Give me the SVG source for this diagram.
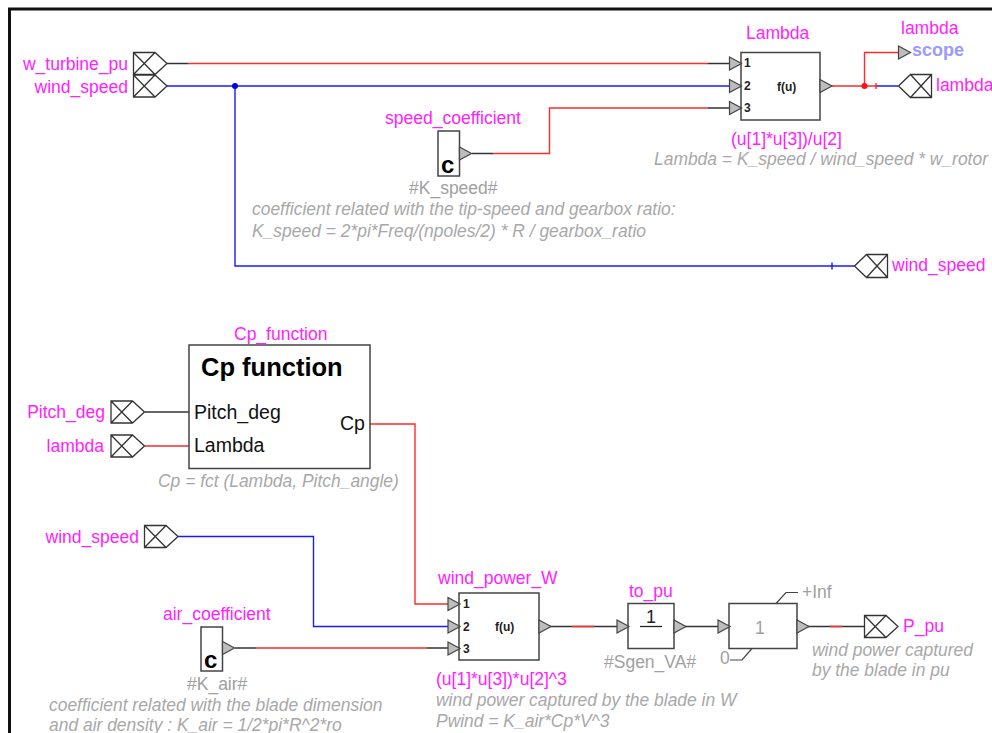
<svg xmlns="http://www.w3.org/2000/svg" xmlns:xlink="http://www.w3.org/1999/xlink" width="992" height="733" viewBox="0 0 992 733">
<style>
text{font-family:"Liberation Sans",Arial,sans-serif}
.lbl{font-size:17.500px;fill:#ff22ff}
.note{font-size:17.440px;fill:#a8a8a8;font-style:italic}
.val{font-size:17.500px;fill:#a0a0a0}
.blk{fill:#fff;stroke:#444;stroke-width:1.5}
.tri{fill:#bdbdbd;stroke:#444;stroke-width:1.2}
.w{fill:none;stroke-width:1.4}
.k{stroke:#333}.r{stroke:#ff2a2a}.b{stroke:#1a1aff}
.port{fill:#fff;stroke:#333;stroke-width:1.3}
.pn{font-size:12px;font-weight:bold;fill:#222}
.c{font-size:24px;font-weight:bold;fill:#000}
.pt{font-size:19.500px;fill:#111}
</style>
<defs>
<g id="src"><path class="port" d="M0-11H21.500L33.500 0 21.500 11H0ZM0-11 21.500 11M0 11 21.500-11"/></g>
<g id="dst"><path class="port" d="M0 0 12-11.500H33V11.500H12ZM12-11.500 33 11.500M12 11.500 33-11.500"/></g>
<path id="t" class="tri" d="M0-6.500 12 0 0 6.500Z"/>
</defs>
<path id="frame" d="M9.500 733V9H992" fill="none" stroke="#111" stroke-width="3"/>
<g id="connectors">
<path class="w k" d="M167 63.500H188M708 63.500H729M472 153.500H493M708 108H729M145 412H189M235 648H256M427 648H448M550 626.500H617M685 626.500H718M808 626.500H864"/>
<path class="w r" d="M188 63.500H708M493 153.500H549.500V108H708M145 446H189M370 424H415V604H448M256 648H427M831 86H876M864.500 86V52.500H898M572 626.500H594M830 626.500H842"/>
<path class="w b" d="M167 86H729M235 86V266H855M876 86H898M178 536.500H313.500V626.500H448"/>
<path class="w b" d="M832 262.500V269.500"/>
<path class="w r" d="M876 83V89"/>
<circle cx="235" cy="86" r="3" fill="#0000e0"/>
<circle cx="864.500" cy="86" r="3" fill="#ff1010"/>
</g>
<g id="w_turbine_pu"><use xlink:href="#src" href="#src" x="133.500" y="63.500"/><text class="lbl" x="128" y="69.500" text-anchor="end">w_turbine_pu</text></g>
<g id="wind_speed_in"><use xlink:href="#src" href="#src" x="133.500" y="86"/><text class="lbl" x="128" y="92.500" text-anchor="end">wind_speed</text></g>
<g id="Lambda">
<rect class="blk" x="741" y="52.500" width="79" height="67.500"/>
<use xlink:href="#t" href="#t" x="729.500" y="63.500"/><use xlink:href="#t" href="#t" x="729.500" y="86"/><use xlink:href="#t" href="#t" x="729.500" y="108"/><use xlink:href="#t" href="#t" x="820" y="86"/>
<text class="pn" x="744" y="67">1</text><text class="pn" x="744" y="90">2</text><text class="pn" x="744" y="112">3</text>
<text class="pn" x="777" y="91">f(u)</text>
<text class="lbl" x="746" y="39">Lambda</text>
<text class="lbl" x="731" y="145">(u[1]*u[3])/u[2]</text>
<text class="note" x="654" y="165">Lambda = K_speed / wind_speed * w_rotor</text>
</g>
<g id="scope"><use xlink:href="#t" href="#t" x="898.500" y="52.500"/><text class="lbl" x="901" y="34">lambda</text><text x="912" y="56" font-size="18" font-weight="bold" fill="#9a9aff">scope</text></g>
<g id="lambda_out"><use xlink:href="#dst" href="#dst" x="898.500" y="86"/><text class="lbl" x="936" y="91">lambda</text></g>
<g id="speed_coefficient">
<rect class="blk" x="438" y="131" width="21.500" height="45"/>
<use xlink:href="#t" href="#t" x="459.500" y="153.500"/>
<text class="c" x="441" y="173">c</text>
<text class="lbl" x="385" y="124">speed_coefficient</text>
<text class="val" x="409" y="194">#K_speed#</text>
<text class="note" x="252" y="215">coefficient related with the tip-speed and gearbox ratio:</text>
<text class="note" x="252" y="237">K_speed = 2*pi*Freq/(npoles/2) * R / gearbox_ratio</text>
</g>
<g id="wind_speed_out"><use xlink:href="#dst" href="#dst" x="854.500" y="266"/><text class="lbl" x="892" y="271">wind_speed</text></g>
<g id="Cp_function">
<rect class="blk" x="189" y="345" width="181" height="123.500"/>
<text class="lbl" x="234" y="340">Cp_function</text>
<text x="201" y="376" font-size="25.500" font-weight="bold" fill="#000">Cp function</text>
<text class="pt" x="194" y="419">Pitch_deg</text>
<text class="pt" x="194" y="452">Lambda</text>
<text class="pt" x="340" y="430">Cp</text>
<text class="note" x="158" y="487">Cp = fct (Lambda, Pitch_angle)</text>
</g>
<g id="Pitch_deg"><use xlink:href="#src" href="#src" x="111" y="412"/><text class="lbl" x="105" y="418" text-anchor="end">Pitch_deg</text></g>
<g id="lambda_in"><use xlink:href="#src" href="#src" x="111" y="446"/><text class="lbl" x="104" y="452" text-anchor="end">lambda</text></g>
<g id="wind_speed_in2"><use xlink:href="#src" href="#src" x="144.500" y="536.500"/><text class="lbl" x="139" y="543" text-anchor="end">wind_speed</text></g>
<g id="air_coefficient">
<rect class="blk" x="201" y="627" width="21.500" height="44"/>
<use xlink:href="#t" href="#t" x="222.500" y="648"/>
<text class="c" x="204" y="668">c</text>
<text class="lbl" x="163" y="620">air_coefficient</text>
<text class="val" x="187" y="690">#K_air#</text>
<text class="note" x="49" y="711">coefficient related with the blade dimension</text>
<text class="note" x="49" y="731">and air density : K_air = 1/2*pi*R^2*ro</text>
</g>
<g id="wind_power_W">
<rect class="blk" x="459" y="593" width="80" height="67"/>
<use xlink:href="#t" href="#t" x="448" y="604"/><use xlink:href="#t" href="#t" x="448" y="626.500"/><use xlink:href="#t" href="#t" x="448" y="648.500"/><use xlink:href="#t" href="#t" x="539" y="626.500"/>
<text class="pn" x="463" y="608">1</text><text class="pn" x="463" y="631">2</text><text class="pn" x="463" y="653">3</text>
<text class="pn" x="495" y="631">f(u)</text>
<text class="lbl" x="438" y="584">wind_power_W</text>
<text class="lbl" x="436" y="685">(u[1]*u[3])*u[2]^3</text>
<text class="note" x="436" y="706">wind power captured by the blade in W</text>
<text class="note" x="436" y="727">Pwind = K_air*Cp*V^3</text>
</g>
<g id="to_pu">
<rect class="blk" x="628" y="603.500" width="46" height="45"/>
<use xlink:href="#t" href="#t" x="617" y="626.500"/><use xlink:href="#t" href="#t" x="674" y="626.500"/>
<text x="646" y="623" font-size="18" fill="#222">1</text>
<path d="M640 626.500H662" stroke="#222" stroke-width="1.300"/>
<text class="lbl" x="629" y="597">to_pu</text>
<text class="val" x="604" y="668">#Sgen_VA#</text>
</g>
<g id="saturation">
<rect class="blk" x="729" y="603.500" width="68" height="45"/>
<use xlink:href="#t" href="#t" x="718" y="626.500"/><use xlink:href="#t" href="#t" x="797" y="626.500"/>
<path d="M776 603.500 786 592.500H798M752 648.500 742 660H730" fill="none" stroke="#444" stroke-width="1.200"/>
<text class="val" x="755" y="634">1</text>
<text class="val" x="802" y="598">+Inf</text>
<text class="val" x="720" y="664">0</text>
</g>
<g id="P_pu"><use xlink:href="#src" href="#src" x="864.500" y="626.500"/><text class="lbl" x="903" y="632">P_pu</text>
<text class="note" x="812" y="656">wind power captured</text>
<text class="note" x="812" y="676">by the blade in pu</text></g>
</svg>
